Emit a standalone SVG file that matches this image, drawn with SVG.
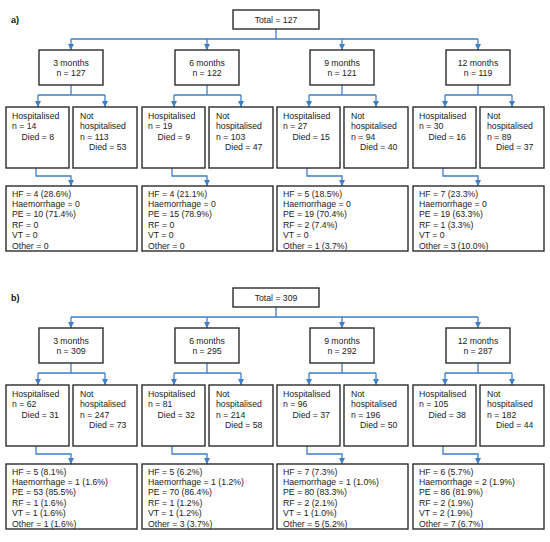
<svg xmlns="http://www.w3.org/2000/svg" width="550" height="542" viewBox="0 0 550 542">
<defs>
<marker id="ah" markerUnits="userSpaceOnUse" viewBox="0 0 10 10" refX="10" refY="5" markerWidth="6" markerHeight="6" orient="auto"><path d="M0,0 L10,5 L0,10 z" fill="#3d7fc9"/></marker>
<style>
.bx{fill:#fff;stroke:#2b2b2b;stroke-width:1.4}
.t{font-family:"Liberation Sans",Arial,sans-serif;font-size:8.7px;fill:#222}
.c{text-anchor:middle}
.lb{font-family:"Liberation Sans",Arial,sans-serif;font-size:9px;font-weight:bold;fill:#111}
.ln{fill:none;stroke:#3d7fc9;stroke-width:1.3}
.ar{fill:none;stroke:#3d7fc9;stroke-width:1.3;marker-end:url(#ah)}
</style>
<g id="conn">
<path class="ln" d="M276,29 V39 M71,39 H478 M71,85 V95 M38,95 H105 M207,85 V95 M174,95 H241 M342,85 V95 M309,95 H376 M478,85 V95 M445,95 H512"/>
<path class="ar" d="M71,39 V50"/><path class="ar" d="M207,39 V50"/><path class="ar" d="M342,39 V50"/><path class="ar" d="M478,39 V50"/>
<path class="ar" d="M38,95 V107"/><path class="ar" d="M105,95 V107"/><path class="ar" d="M174,95 V107"/><path class="ar" d="M241,95 V107"/>
<path class="ar" d="M309,95 V107"/><path class="ar" d="M376,95 V107"/><path class="ar" d="M445,95 V107"/><path class="ar" d="M512,95 V107"/>
<path class="ar" d="M36,168 V176 H71 V186"/><path class="ar" d="M172,168 V176 H207 V186"/><path class="ar" d="M307,168 V176 H342 V186"/><path class="ar" d="M443,168 V176 H478 V186"/>
</g>
</defs>
<rect width="550" height="542" fill="#fff"/>

<!-- Panel a -->
<g id="panel-a">
<text class="lb" x="11" y="23">a)</text>
<g id="connectors-a"><use href="#conn"/></g>
<g id="a-total"><rect class="bx" x="233" y="10" width="86" height="19"/><text class="t c" x="276" y="23">Total = 127</text></g>

<g id="a-m3"><rect class="bx" x="39" y="50" width="64" height="35"/><text class="t c" x="71" y="65.8">3 months</text><text class="t c" x="71" y="75.8">n = 127</text></g>
<g id="a-m6"><rect class="bx" x="175" y="50" width="64" height="35"/><text class="t c" x="207" y="65.8">6 months</text><text class="t c" x="207" y="75.8">n = 122</text></g>
<g id="a-m9"><rect class="bx" x="310" y="50" width="64" height="35"/><text class="t c" x="342" y="65.8">9 months</text><text class="t c" x="342" y="75.8">n = 121</text></g>
<g id="a-m12"><rect class="bx" x="446" y="50" width="64" height="35"/><text class="t c" x="478" y="65.8">12 months</text><text class="t c" x="478" y="75.8">n = 119</text></g>

<g id="a-h3"><rect class="bx" x="6" y="107" width="63" height="61"/><text class="t"><tspan x="12" y="119">Hospitalised</tspan><tspan x="12" y="129.3">n = 14</tspan><tspan x="21.5" y="139.5">Died = 8</tspan></text></g>
<g id="a-n3"><rect class="bx" x="73" y="107" width="64" height="61"/><text class="t"><tspan x="80" y="119">Not</tspan><tspan x="80" y="129.3">hospitalised</tspan><tspan x="80" y="139.5">n = 113</tspan><tspan x="89" y="149.7">Died = 53</tspan></text></g>
<g id="a-h6"><rect class="bx" x="142" y="107" width="63" height="61"/><text class="t"><tspan x="148" y="119">Hospitalised</tspan><tspan x="148" y="129.3">n = 19</tspan><tspan x="157.5" y="139.5">Died = 9</tspan></text></g>
<g id="a-n6"><rect class="bx" x="209" y="107" width="64" height="61"/><text class="t"><tspan x="216" y="119">Not</tspan><tspan x="216" y="129.3">hospitalised</tspan><tspan x="216" y="139.5">n = 103</tspan><tspan x="225" y="149.7">Died = 47</tspan></text></g>
<g id="a-h9"><rect class="bx" x="277" y="107" width="63" height="61"/><text class="t"><tspan x="283" y="119">Hospitalised</tspan><tspan x="283" y="129.3">n = 27</tspan><tspan x="292.5" y="139.5">Died = 15</tspan></text></g>
<g id="a-n9"><rect class="bx" x="344" y="107" width="64" height="61"/><text class="t"><tspan x="351" y="119">Not</tspan><tspan x="351" y="129.3">hospitalised</tspan><tspan x="351" y="139.5">n = 94</tspan><tspan x="360" y="149.7">Died = 40</tspan></text></g>
<g id="a-h12"><rect class="bx" x="413" y="107" width="63" height="61"/><text class="t"><tspan x="419" y="119">Hospitalised</tspan><tspan x="419" y="129.3">n = 30</tspan><tspan x="428.5" y="139.5">Died = 16</tspan></text></g>
<g id="a-n12"><rect class="bx" x="480" y="107" width="64" height="61"/><text class="t"><tspan x="487" y="119">Not</tspan><tspan x="487" y="129.3">hospitalised</tspan><tspan x="487" y="139.5">n = 89</tspan><tspan x="496" y="149.7">Died = 37</tspan></text></g>

<g id="a-c3"><rect class="bx" x="6" y="186" width="131" height="65"/><text class="t"><tspan x="12" y="196.5">HF = 4 (28.6%)</tspan><tspan x="12" y="206.9">Haemorrhage = 0</tspan><tspan x="12" y="217.3">PE = 10 (71.4%)</tspan><tspan x="12" y="227.7">RF = 0</tspan><tspan x="12" y="238.1">VT = 0</tspan><tspan x="12" y="248.5">Other = 0</tspan></text></g>
<g id="a-c6"><rect class="bx" x="142" y="186" width="131" height="65"/><text class="t"><tspan x="148" y="196.5">HF = 4 (21.1%)</tspan><tspan x="148" y="206.9">Haemorrhage = 0</tspan><tspan x="148" y="217.3">PE = 15 (78.9%)</tspan><tspan x="148" y="227.7">RF = 0</tspan><tspan x="148" y="238.1">VT = 0</tspan><tspan x="148" y="248.5">Other = 0</tspan></text></g>
<g id="a-c9"><rect class="bx" x="277" y="186" width="131" height="65"/><text class="t"><tspan x="283" y="196.5">HF = 5 (18.5%)</tspan><tspan x="283" y="206.9">Haemorrhage = 0</tspan><tspan x="283" y="217.3">PE = 19 (70.4%)</tspan><tspan x="283" y="227.7">RF = 2 (7.4%)</tspan><tspan x="283" y="238.1">VT = 0</tspan><tspan x="283" y="248.5">Other = 1 (3.7%)</tspan></text></g>
<g id="a-c12"><rect class="bx" x="413" y="186" width="131" height="65"/><text class="t"><tspan x="419" y="196.5">HF = 7 (23.3%)</tspan><tspan x="419" y="206.9">Haemorrhage = 0</tspan><tspan x="419" y="217.3">PE = 19 (63.3%)</tspan><tspan x="419" y="227.7">RF = 1 (3.3%)</tspan><tspan x="419" y="238.1">VT = 0</tspan><tspan x="419" y="248.5">Other = 3 (10.0%)</tspan></text></g>
</g>

<!-- Panel b -->
<g id="panel-b" transform="translate(0,278)">
<text class="lb" x="11" y="23">b)</text>
<g id="connectors-b"><use href="#conn"/></g>
<g id="b-total"><rect class="bx" x="233" y="10" width="86" height="19"/><text class="t c" x="276" y="23">Total = 309</text></g>

<g id="b-m3"><rect class="bx" x="39" y="50" width="64" height="35"/><text class="t c" x="71" y="65.8">3 months</text><text class="t c" x="71" y="75.8">n = 309</text></g>
<g id="b-m6"><rect class="bx" x="175" y="50" width="64" height="35"/><text class="t c" x="207" y="65.8">6 months</text><text class="t c" x="207" y="75.8">n = 295</text></g>
<g id="b-m9"><rect class="bx" x="310" y="50" width="64" height="35"/><text class="t c" x="342" y="65.8">9 months</text><text class="t c" x="342" y="75.8">n = 292</text></g>
<g id="b-m12"><rect class="bx" x="446" y="50" width="64" height="35"/><text class="t c" x="478" y="65.8">12 months</text><text class="t c" x="478" y="75.8">n = 287</text></g>

<g id="b-h3"><rect class="bx" x="6" y="107" width="63" height="61"/><text class="t"><tspan x="12" y="119">Hospitalised</tspan><tspan x="12" y="129.3">n = 62</tspan><tspan x="21.5" y="139.5">Died = 31</tspan></text></g>
<g id="b-n3"><rect class="bx" x="73" y="107" width="64" height="61"/><text class="t"><tspan x="80" y="119">Not</tspan><tspan x="80" y="129.3">hospitalised</tspan><tspan x="80" y="139.5">n = 247</tspan><tspan x="89" y="149.7">Died = 73</tspan></text></g>
<g id="b-h6"><rect class="bx" x="142" y="107" width="63" height="61"/><text class="t"><tspan x="148" y="119">Hospitalised</tspan><tspan x="148" y="129.3">n = 81</tspan><tspan x="157.5" y="139.5">Died = 32</tspan></text></g>
<g id="b-n6"><rect class="bx" x="209" y="107" width="64" height="61"/><text class="t"><tspan x="216" y="119">Not</tspan><tspan x="216" y="129.3">hospitalised</tspan><tspan x="216" y="139.5">n = 214</tspan><tspan x="225" y="149.7">Died = 58</tspan></text></g>
<g id="b-h9"><rect class="bx" x="277" y="107" width="63" height="61"/><text class="t"><tspan x="283" y="119">Hospitalised</tspan><tspan x="283" y="129.3">n = 96</tspan><tspan x="292.5" y="139.5">Died = 37</tspan></text></g>
<g id="b-n9"><rect class="bx" x="344" y="107" width="64" height="61"/><text class="t"><tspan x="351" y="119">Not</tspan><tspan x="351" y="129.3">hospitalised</tspan><tspan x="351" y="139.5">n = 196</tspan><tspan x="360" y="149.7">Died = 50</tspan></text></g>
<g id="b-h12"><rect class="bx" x="413" y="107" width="63" height="61"/><text class="t"><tspan x="419" y="119">Hospitalised</tspan><tspan x="419" y="129.3">n = 105</tspan><tspan x="428.5" y="139.5">Died = 38</tspan></text></g>
<g id="b-n12"><rect class="bx" x="480" y="107" width="64" height="61"/><text class="t"><tspan x="487" y="119">Not</tspan><tspan x="487" y="129.3">hospitalised</tspan><tspan x="487" y="139.5">n = 182</tspan><tspan x="496" y="149.7">Died = 44</tspan></text></g>

<g id="b-c3"><rect class="bx" x="6" y="186" width="131" height="65"/><text class="t"><tspan x="12" y="196.5">HF = 5 (8.1%)</tspan><tspan x="12" y="206.9">Haemorrhage = 1 (1.6%)</tspan><tspan x="12" y="217.3">PE = 53 (85.5%)</tspan><tspan x="12" y="227.7">RF = 1 (1.6%)</tspan><tspan x="12" y="238.1">VT = 1 (1.6%)</tspan><tspan x="12" y="248.5">Other = 1 (1.6%)</tspan></text></g>
<g id="b-c6"><rect class="bx" x="142" y="186" width="131" height="65"/><text class="t"><tspan x="148" y="196.5">HF = 5 (6.2%)</tspan><tspan x="148" y="206.9">Haemorrhage = 1 (1.2%)</tspan><tspan x="148" y="217.3">PE = 70 (86.4%)</tspan><tspan x="148" y="227.7">RF = 1 (1.2%)</tspan><tspan x="148" y="238.1">VT = 1 (1.2%)</tspan><tspan x="148" y="248.5">Other = 3 (3.7%)</tspan></text></g>
<g id="b-c9"><rect class="bx" x="277" y="186" width="131" height="65"/><text class="t"><tspan x="283" y="196.5">HF = 7 (7.3%)</tspan><tspan x="283" y="206.9">Haemorrhage = 1 (1.0%)</tspan><tspan x="283" y="217.3">PE = 80 (83.3%)</tspan><tspan x="283" y="227.7">RF = 2 (2.1%)</tspan><tspan x="283" y="238.1">VT = 1 (1.0%)</tspan><tspan x="283" y="248.5">Other = 5 (5.2%)</tspan></text></g>
<g id="b-c12"><rect class="bx" x="413" y="186" width="131" height="65"/><text class="t"><tspan x="419" y="196.5">HF = 6 (5.7%)</tspan><tspan x="419" y="206.9">Haemorrhage = 2 (1.9%)</tspan><tspan x="419" y="217.3">PE = 86 (81.9%)</tspan><tspan x="419" y="227.7">RF = 2 (1.9%)</tspan><tspan x="419" y="238.1">VT = 2 (1.9%)</tspan><tspan x="419" y="248.5">Other = 7 (6.7%)</tspan></text></g>
</g>
</svg>
